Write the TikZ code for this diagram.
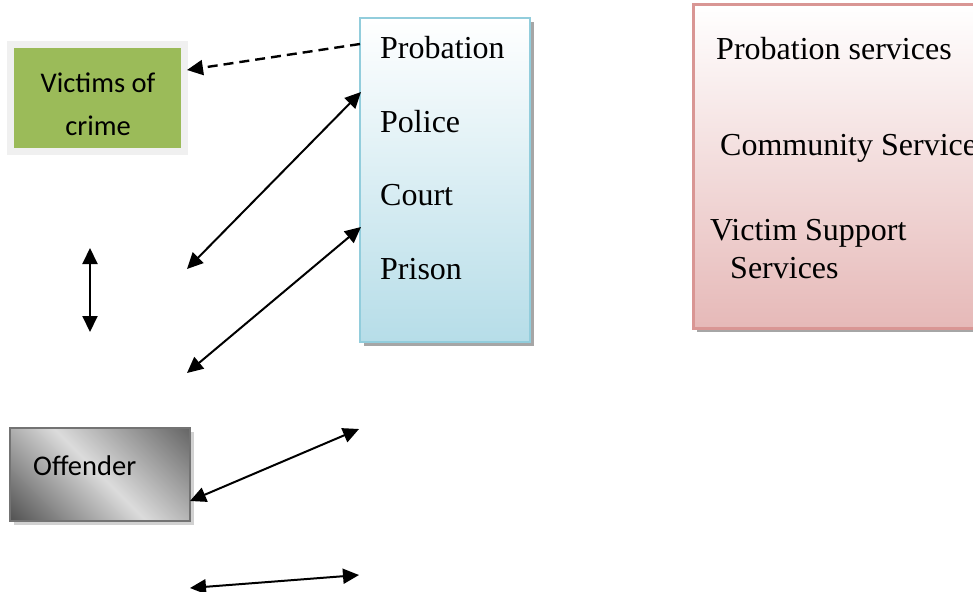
\documentclass[tikz,border=0pt]{standalone}
\usepackage{fontspec}
\setmainfont{Liberation Serif}
\newfontfamily\calibri{Carlito}
\usetikzlibrary{arrows.meta,shadows,calc}

\definecolor{vgreen}{HTML}{9BBB59}
\definecolor{vframe}{HTML}{F0F0F0}
\definecolor{bborder}{HTML}{92CDDC}
\definecolor{bbottom}{HTML}{B6DDE8}
\definecolor{pborder}{HTML}{D99694}
\definecolor{pbottom}{HTML}{E6B9B8}

\tikzset{
  dbl/.style={{Triangle[length=16pt,width=15pt]}-{Triangle[length=16pt,width=15pt]}, line width=2pt},
  dsh/.style={-{Triangle[length=16pt,width=15pt]}, line width=2.4pt, dash pattern=on 10pt off 6pt},
  boxtext/.style={font=\fontsize{32}{38}\selectfont, anchor=base west, inner sep=0pt},
  cbtext/.style={font=\calibri\fontsize{28.5}{34}\selectfont, inner sep=0pt},
  shadowed/.style={drop shadow={shadow xshift=4pt, shadow yshift=-4pt, fill=#1, opacity=1}},
}

\begin{document}
\begin{tikzpicture}[x=1pt,y=-1pt]
\useasboundingbox (0,0) rectangle (973,591);

% agency boxes
\node[shadowed=black!35, draw=bborder, line width=2pt, top color=white, bottom color=bbottom,
      minimum width=170pt, minimum height=324pt, inner sep=0pt] (agency) at (445,180) {};
\node[shadowed=black!35, draw=pborder, line width=3pt, top color=white, bottom color=pbottom,
      minimum width=300pt, minimum height=323pt, inner sep=0pt] (services) at (843,166.5) {};

% victims
\node[draw=vframe, line width=7pt, fill=vgreen, minimum width=174pt, minimum height=106.5pt,
      inner sep=0pt] (victims) at (97.5,98.25) {};
\node[cbtext, anchor=base] (vt1) at (98,93) {Victims of};
\node[cbtext, anchor=base] (vt2) at (98,135) {crime};

% offender: diagonal metallic shading clipped to the box
\node[shadowed=black!18, fill=white, minimum width=180pt, minimum height=93pt,
      inner sep=0pt, outer sep=0pt] (offender) at (100,474.5) {};
\begin{scope}
  \clip (offender.south west) rectangle (offender.north east);
  \shade[top color=black!62, bottom color=black!70, middle color=black!14, shading angle=-45]
    ($(offender.center)+(-100,-100)$) rectangle ($(offender.center)+(100,100)$);
\end{scope}
\draw[black!55, line width=2pt] (offender.south west) rectangle (offender.north east);
\node[cbtext, anchor=base west] (ot) at (33,475) {Offender};

% agency labels
\node[boxtext] (probation) at (380,59) {Probation};
\node[boxtext] (police) at (380,132) {Police};
\node[boxtext] (court) at (380,205) {Court};
\node[boxtext] (prison) at (380,279) {Prison};

% service labels
\node[boxtext] (ps) at (716,60) {Probation services};
\node[boxtext] (cs) at (720,155) {Community Services};
\node[boxtext] (vs1) at (710,240) {Victim Support};
\node[boxtext] (vs2) at (730,278) {Services};

% connector ends
\coordinate (d1) at (360,44);
\coordinate (d2) at (187,70);
\coordinate (a1s) at (361,92);
\coordinate (a1e) at (187,269);
\coordinate (a2s) at (361,227);
\coordinate (a2e) at (187,373);
\coordinate (v1) at (90,248);
\coordinate (v2) at (90,332);
\coordinate (a3s) at (359,429);
\coordinate (a3e) at (190,501);
\coordinate (a4s) at (359,575);
\coordinate (a4e) at (190,588);

\draw[dsh] (d1) -- (d2);
\draw[dbl] (a1s) -- (a1e);
\draw[dbl] (a2s) -- (a2e);
\draw[dbl] (v1) -- (v2);
\draw[dbl] (a3s) -- (a3e);
\draw[dbl] (a4s) -- (a4e);
\end{tikzpicture}
\end{document}
